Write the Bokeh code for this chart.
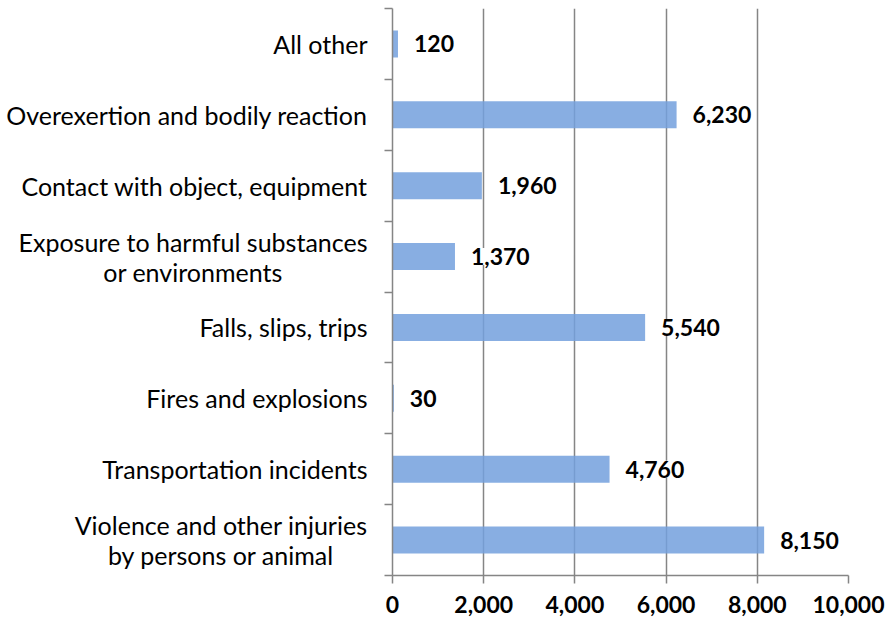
from bokeh.plotting import figure
from bokeh.layouts import row
from bokeh.models import ColumnDataSource, FixedTicker, LabelSet, Range1d, NumeralTickFormatter
from bokeh.core.properties import value
from bokeh.embed import file_html
from bokeh.resources import INLINE

categories = [
    "All other",
    "Overexertion and bodily reaction",
    "Contact with object, equipment",
    "Exposure to harmful substances\nor environments",
    "Falls, slips, trips",
    "Fires and explosions",
    "Transportation incidents",
    "Violence and other injuries\nby persons or animal",
]
values = [120, 6230, 1960, 1370, 5540, 30, 4760, 8150]
x_ticks = [0, 2000, 4000, 6000, 8000, 10000]

n = len(categories)
ys = [n - i - 0.5 for i in range(n)]
labels = [f"{v:,}" for v in values]
src = ColumnDataSource(dict(y=ys, value=values, label=labels, cat=categories,
                            xl=[1] * n))

FONT = "Lato"
GREY = "#858585"
y_range = Range1d(0, n)

# left panel: category labels
pl = figure(width=384, height=618, output_backend="svg", toolbar_location=None,
            x_range=Range1d(0, 1), y_range=y_range,
            x_axis_location=None, y_axis_location=None,
            min_border_left=0, min_border_right=0, min_border_top=8, min_border_bottom=43)
pl.outline_line_color = None
pl.xgrid.visible = False
pl.ygrid.visible = False
pl.text(x="xl", y="y", text="cat", source=src, x_offset=-17,
        anchor="center_right", text_align="center", text_baseline="middle",
        text_font=value(FONT), text_font_size="25px", text_color="black",
        text_line_height=1.0)

# main chart
p = figure(width=504, height=618, output_backend="svg", toolbar_location=None,
           x_range=Range1d(0, 10000), y_range=y_range,
           min_border_left=8, min_border_right=40, min_border_top=8, min_border_bottom=43)
p.outline_line_color = None
p.background_fill_color = "white"

p.hbar(y="y", right="value", left=0, height=0.38, source=src,
       fill_color="#73A0DD", fill_alpha=0.85, line_color=None)

# x axis
p.xaxis.ticker = FixedTicker(ticks=x_ticks)
p.xaxis.formatter = NumeralTickFormatter(format="0,0")
p.xaxis.major_tick_out = 8
p.xaxis.major_tick_in = 0
p.xaxis.minor_tick_out = 0
p.xaxis.minor_tick_in = 0
p.xaxis.axis_line_color = GREY
p.xaxis.axis_line_width = 1.5
p.xaxis.major_tick_line_color = GREY
p.xaxis.major_tick_line_width = 1.5
p.xaxis.major_label_text_font = FONT
p.xaxis.major_label_text_font_style = "bold"
p.xaxis.major_label_text_font_size = "23px"
p.xaxis.major_label_text_color = "black"
p.xaxis.major_label_standoff = 12

# y axis: tick marks at category boundaries
bounds = list(range(n + 1))
p.yaxis.ticker = FixedTicker(ticks=bounds)
p.yaxis.major_label_overrides = {float(b): "" for b in bounds}
p.yaxis.major_label_standoff = 0
p.yaxis.major_tick_out = 8
p.yaxis.major_tick_in = 0
p.yaxis.minor_tick_out = 0
p.yaxis.minor_tick_in = 0
p.yaxis.major_tick_line_color = GREY
p.yaxis.major_tick_line_width = 1.5
p.yaxis.axis_line_color = GREY
p.yaxis.axis_line_width = 1.5

# grid
p.ygrid.grid_line_color = None
p.xgrid.ticker = FixedTicker(ticks=x_ticks)
p.xgrid.grid_line_color = GREY
p.xgrid.grid_line_width = 1.5

lbl = LabelSet(x="value", y="y", text="label", source=src, x_offset=16,
               text_baseline="middle", text_font=value(FONT), text_font_style="bold",
               text_font_size="23px", text_color="black",
               background_fill_color="white")
p.add_layout(lbl)

layout = row(pl, p, spacing=0)
open("out.html", "w").write(file_html(layout, INLINE))
